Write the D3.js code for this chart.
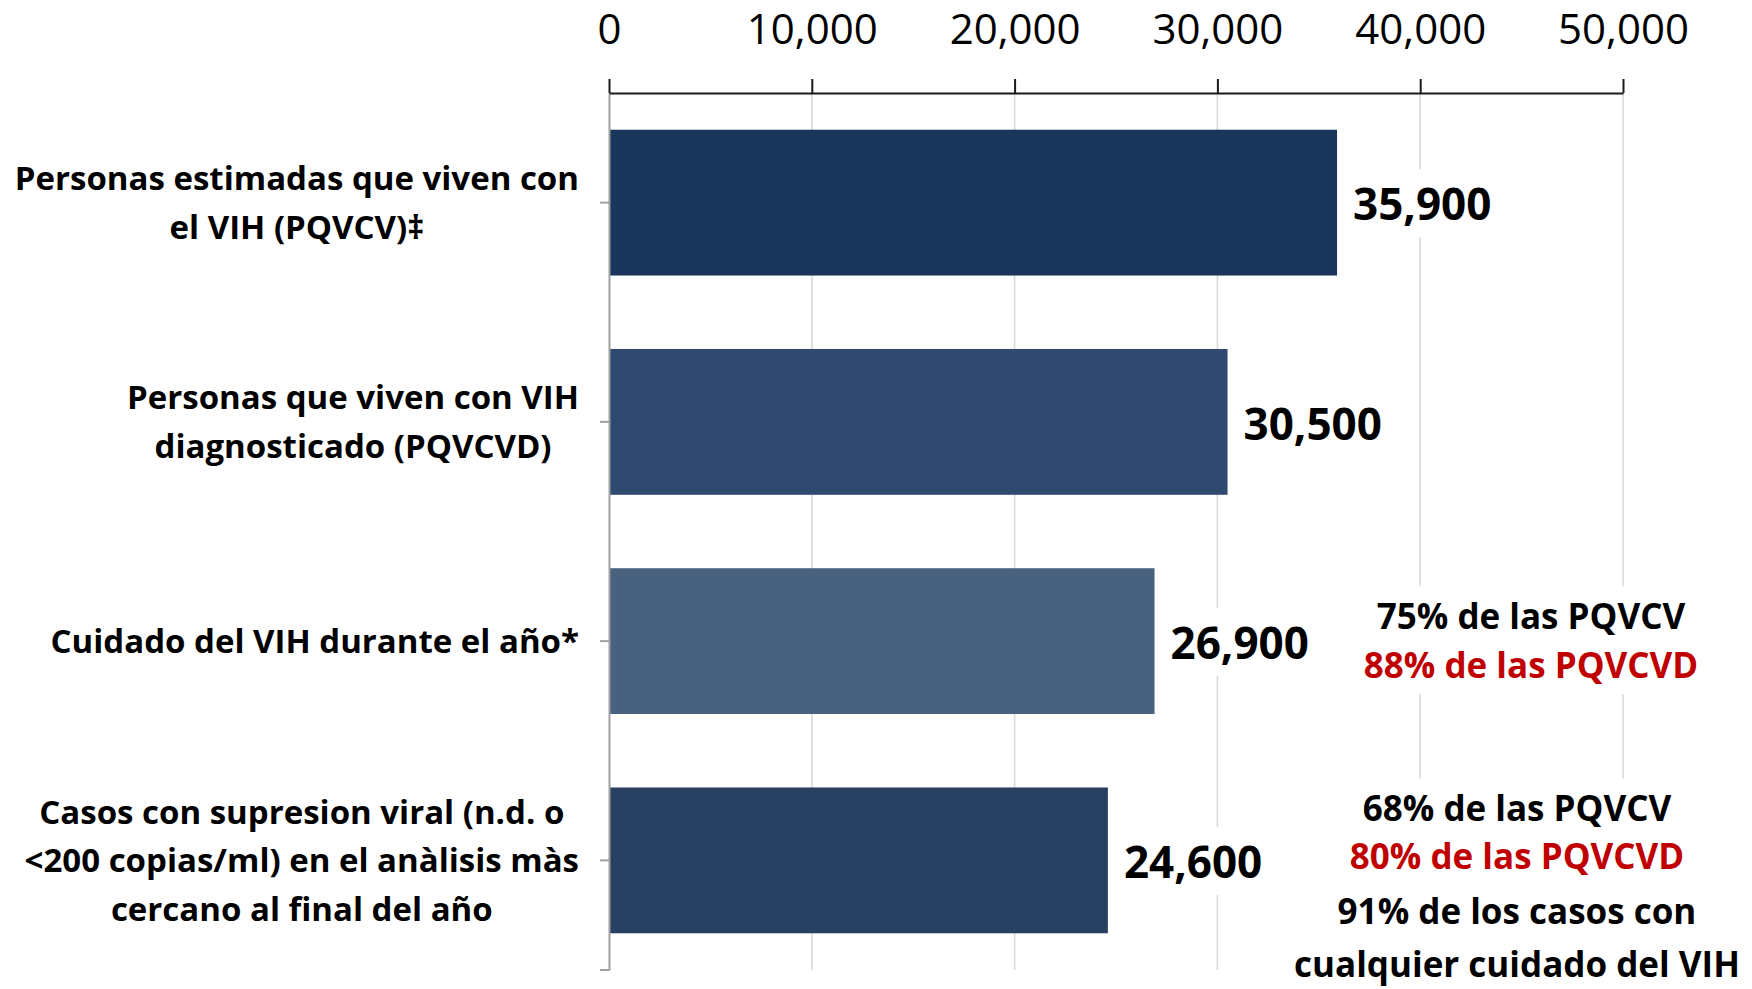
<!DOCTYPE html>
<html>
<head>
<meta charset="utf-8">
<script src="https://cdn.jsdelivr.net/npm/d3@7"></script>
<style>
  html, body { margin: 0; padding: 0; background: #ffffff; }
  svg { display: block; }
  text { font-family: "Open Sans", "Noto Sans", sans-serif; }
</style>
</head>
<body>
<div id="chart"></div>
<script>
// ---------------- DATA ----------------
const categories = [
  ["Personas estimadas que viven con", "el VIH (PQVCV)‡"],
  ["Personas que viven con VIH", "diagnosticado (PQVCVD)"],
  ["Cuidado del VIH durante el año*"],
  ["Casos con supresion viral (n.d. o", "<200 copias/ml) en el anàlisis màs", "cercano al final del año"]
];
const values = [35900, 30500, 26900, 24600];
const tickValues = [0, 10000, 20000, 30000, 40000, 50000];
const careNotes = ["75% de las PQVCV", "88% de las PQVCVD"];
const suppressionNotes = ["68% de las PQVCV", "80% de las PQVCVD"];
const suppressionNotes2 = ["91% de los casos con", "cualquier cuidado del VIH"];

// ---------------- STYLE / LAYOUT ----------------
const W = 1752, H = 989;
const barColors = ["#1B365D", "#2F4A6E", "#48617F", "#284163"];
const red = "#C00000";
const plot = { left: 609, right: 1623, top: 93, bottom: 970 };

const svg = d3.select("#chart").append("svg")
  .attr("width", W).attr("height", H);

const x = d3.scaleLinear().domain([0, 50000]).range([plot.left, plot.right]);
const y = d3.scaleBand().domain(d3.range(categories.length))
  .range([plot.top, plot.bottom]).paddingInner(0.335).paddingOuter(0.1675);

// gridlines
svg.append("g").selectAll("line").data(tickValues.slice(1)).join("line")
  .attr("x1", d => x(d)).attr("x2", d => x(d))
  .attr("y1", plot.top).attr("y2", plot.bottom)
  .attr("stroke", "#d9d9d9").attr("stroke-width", 1.6);

// bars
svg.append("g").selectAll("rect").data(values).join("rect")
  .attr("x", x(0))
  .attr("y", (d, i) => y(i))
  .attr("width", d => x(d) - x(0))
  .attr("height", y.bandwidth())
  .attr("fill", (d, i) => barColors[i]);

// left axis (gray)
const yAxis = d3.axisLeft(y).tickSize(9).tickSizeOuter(0).tickFormat("");
const gy = svg.append("g").attr("transform", `translate(${plot.left},0)`).call(yAxis);
gy.select(".domain").attr("stroke", "#a0a0a0").attr("stroke-width", 2);
gy.selectAll(".tick line").attr("stroke", "#a0a0a0").attr("stroke-width", 2);
gy.append("line").attr("x1", -9).attr("x2", 0)
  .attr("y1", plot.bottom).attr("y2", plot.bottom)
  .attr("stroke", "#a0a0a0").attr("stroke-width", 2);

// top axis
const xAxis = d3.axisTop(x).tickValues(tickValues).tickSize(14).tickSizeOuter(0)
  .tickPadding(35).tickFormat(d3.format(","));
const gx = svg.append("g").attr("transform", `translate(0,${plot.top})`).call(xAxis);
gx.select(".domain").attr("stroke", "#1a1a1a").attr("stroke-width", 2);
gx.selectAll(".tick line").attr("stroke", "#1a1a1a").attr("stroke-width", 2);
gx.selectAll(".tick text").attr("font-size", 42).attr("fill", "#000")
  .attr("font-family", "'Open Sans', sans-serif");

// helper: text with white background box
function boxedText(g, lines, cx, baselines, opts) {
  const grp = g.append("g");
  const bg = grp.append("rect").attr("fill", "#fff");
  grp.selectAll("text").data(lines).join("text")
    .attr("x", cx).attr("y", (d, i) => baselines[i])
    .attr("text-anchor", opts.anchor || "middle")
    .attr("font-size", opts.size).attr("font-weight", 700)
    .attr("fill", (d, i) => opts.colors ? opts.colors[i] : "#000")
    .text(d => d);
  const bb = grp.node().getBBox();
  const p = opts.pad || 5;
  bg.attr("x", bb.x - p).attr("y", bb.y - p)
    .attr("width", bb.width + 2 * p).attr("height", bb.height + 2 * p);
  return grp;
}

const labelsG = svg.append("g");

// value labels
values.forEach((v, i) => {
  const cy = y(i) + y.bandwidth() / 2;
  boxedText(labelsG, [d3.format(",")(v)], x(v) + 16, [cy + 0.357 * 44 + 2],
    { size: 44, anchor: "start", pad: 4 });
});

// category labels (block right-aligned, lines centered)
const catG = svg.append("g");
const catSize = 33, catLead = 48.5, catRight = 579;
categories.forEach((lines, i) => {
  const cy = y(i) + y.bandwidth() / 2;
  const n = lines.length;
  const t = catG.append("g").selectAll("text").data(lines).join("text")
    .attr("text-anchor", "middle")
    .attr("font-size", catSize).attr("font-weight", 700).attr("fill", "#000")
    .attr("y", (d, k) => cy + (k - (n - 1) / 2) * catLead + 0.357 * catSize)
    .text(d => d);
  let maxW = 0;
  t.each(function () { maxW = Math.max(maxW, this.getComputedTextLength()); });
  t.attr("x", catRight - maxW / 2);
});

// annotations
const noteSize = 35;
{
  const cy = y(2) + y.bandwidth() / 2;
  boxedText(labelsG, careNotes, 1531,
    [cy - 24.5 + 0.357 * noteSize, cy + 24.5 + 0.357 * noteSize],
    { size: noteSize, colors: ["#000", red], pad: 6 });
}
{
  const cy = y(3) + y.bandwidth() / 2;
  boxedText(labelsG, suppressionNotes.concat(suppressionNotes2), 1517,
    [cy - 39, cy + 9, cy + 63.5, cy + 116.5],
    { size: noteSize, colors: ["#000", red, "#000", "#000"], pad: 6 });
}
</script>
</body>
</html>
